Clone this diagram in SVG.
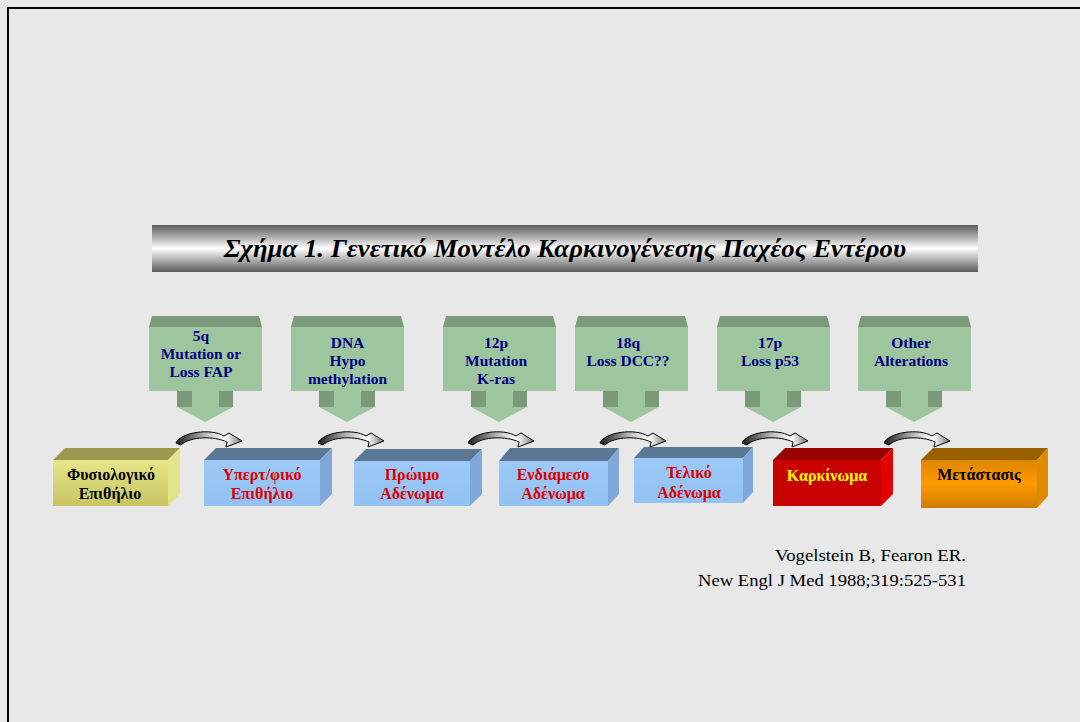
<svg xmlns="http://www.w3.org/2000/svg" width="1080" height="722" viewBox="0 0 1080 722">
<defs>
<linearGradient id="gTitle" x1="0" y1="0" x2="0" y2="1">
<stop offset="0" stop-color="#5a5a5a"/><stop offset="0.5" stop-color="#ffffff"/><stop offset="1" stop-color="#5a5a5a"/>
</linearGradient>
<linearGradient id="gArrow" x1="0" y1="0" x2="1" y2="0">
<stop offset="0" stop-color="#1a1a1a"/><stop offset="0.45" stop-color="#bbbbbb"/><stop offset="0.75" stop-color="#ffffff"/><stop offset="1" stop-color="#777777"/>
</linearGradient>
<linearGradient id="gYellow" x1="0" y1="0" x2="0" y2="1">
<stop offset="0" stop-color="#e6e688"/><stop offset="1" stop-color="#c8c462"/>
</linearGradient>
<linearGradient id="gBlue" x1="0" y1="0" x2="0" y2="1">
<stop offset="0" stop-color="#9cc9f6"/><stop offset="1" stop-color="#92c2f2"/>
</linearGradient>
<linearGradient id="gOrange" x1="0" y1="0" x2="0" y2="1">
<stop offset="0" stop-color="#dc8600"/><stop offset="0.5" stop-color="#ff9900"/><stop offset="1" stop-color="#cf7d00"/>
</linearGradient>
<path id="curl" d="M0,13 C5,2 35,-2 48,6 L53,3 L66,11 L50,17 L51,12 C38,6 15,6 5,15 Z"/>
<g id="callout">
<polygon points="3,0 110,0 113,11 0,11" fill="#7a9a7a"/>
<rect x="0" y="11" width="113" height="64" fill="#9ec69e"/>
<rect x="28" y="75" width="56" height="16" fill="#9ec69e"/>
<rect x="28" y="75" width="15" height="16" fill="#7a9a7a"/>
<rect x="70" y="75" width="14" height="16" fill="#7a9a7a"/>
<polygon points="28,91 84,91 56,106" fill="#9ec69e"/>
</g>
</defs>
<style>
.cal{font-family:"Liberation Serif","Times New Roman",serif;font-weight:bold;font-size:15.5px;fill:#000080;text-anchor:middle}
.bx{font-family:"Liberation Serif","Times New Roman",serif;font-weight:bold;font-size:16px;text-anchor:middle}
.red{fill:#dd0000}
.blk{fill:#000000}
.yel{fill:#ffff00}
.cite{font-family:"Liberation Serif","Times New Roman",serif;font-size:17.5px;fill:#000000;text-anchor:end}
.arr{fill:url(#gArrow);stroke:#000;stroke-width:1}
</style>
<rect x="0" y="0" width="1080" height="722" fill="#e8e8e8"/>
<rect x="8" y="8" width="1090" height="730" fill="none" stroke="#000" stroke-width="2"/>

<g id="title">
<rect x="152" y="225" width="826" height="47" fill="url(#gTitle)"/>
<text x="224" y="257" font-family="Liberation Serif,Times New Roman,serif" font-weight="bold" font-style="italic" font-size="26" textLength="682" lengthAdjust="spacingAndGlyphs" fill="#000">Σχήμα 1. Γενετικό Μοντέλο Καρκινογένεσης Παχέος Εντέρου</text>
</g>

<g id="callout1"><use href="#callout" x="149" y="316"/>
<text class="cal"><tspan x="201" y="341">5q</tspan><tspan x="201" y="359">Mutation or</tspan><tspan x="201" y="377">Loss FAP</tspan></text></g>
<g id="callout2"><use href="#callout" x="291" y="316"/>
<text class="cal"><tspan x="347.5" y="348">DNA</tspan><tspan x="347.5" y="366">Hypo</tspan><tspan x="347.5" y="384">methylation</tspan></text></g>
<g id="callout3"><use href="#callout" x="443" y="316"/>
<text class="cal"><tspan x="496" y="348">12p</tspan><tspan x="496" y="366">Mutation</tspan><tspan x="496" y="384">K-ras</tspan></text></g>
<g id="callout4"><use href="#callout" x="575" y="316"/>
<text class="cal"><tspan x="628" y="348">18q</tspan><tspan x="628" y="366">Loss DCC??</tspan></text></g>
<g id="callout5"><use href="#callout" x="717" y="316"/>
<text class="cal"><tspan x="770" y="348">17p</tspan><tspan x="770" y="366">Loss p53</tspan></text></g>
<g id="callout6"><use href="#callout" x="858" y="316"/>
<text class="cal"><tspan x="911" y="348">Other</tspan><tspan x="911" y="366">Alterations</tspan></text></g>

<g id="connectors">
<use href="#curl" class="arr" x="176" y="430"/>
<use href="#curl" class="arr" x="318" y="430"/>
<use href="#curl" class="arr" x="468" y="430"/>
<use href="#curl" class="arr" x="600" y="430"/>
<use href="#curl" class="arr" x="742" y="430"/>
<use href="#curl" class="arr" x="884" y="430"/>
</g>

<g id="box1">
<polygon points="53,460 65,448 180,448 168,460" fill="#9c9852"/>
<polygon points="168,460 180,448 180,494 168,506" fill="#e4e48c"/>
<rect x="53" y="460" width="115" height="46" fill="url(#gYellow)"/>
<text class="bx blk"><tspan x="111" y="480">Φυσιολογικό</tspan><tspan x="110" y="499">Επιθήλιο</tspan></text>
</g>
<g id="box2">
<polygon points="204,460 216,448 332,448 320,460" fill="#5a7896"/>
<polygon points="320,460 332,448 332,494 320,506" fill="#7fa8d8"/>
<rect x="204" y="460" width="116" height="46" fill="url(#gBlue)"/>
<text class="bx red"><tspan x="262" y="480">Υπερτ/φικό</tspan><tspan x="262" y="499">Επιθήλιο</tspan></text>
</g>
<g id="box3">
<polygon points="354,461 366,449 482,449 470,461" fill="#5a7896"/>
<polygon points="470,461 482,449 482,494 470,506" fill="#7fa8d8"/>
<rect x="354" y="461" width="116" height="45" fill="url(#gBlue)"/>
<text class="bx red"><tspan x="412" y="480">Πρώιμο</tspan><tspan x="412" y="499">Αδένωμα</tspan></text>
</g>
<g id="box4">
<polygon points="499,461 510,448 619,448 608,461" fill="#5a7896"/>
<polygon points="608,461 619,448 619,494 608,506" fill="#7fa8d8"/>
<rect x="499" y="461" width="109" height="45" fill="url(#gBlue)"/>
<text class="bx red"><tspan x="553" y="480">Ενδιάμεσο</tspan><tspan x="553" y="499">Αδένωμα</tspan></text>
</g>
<g id="box5">
<polygon points="634,458 644,447 753,447 743,458" fill="#5a7896"/>
<polygon points="743,458 753,447 753,492 743,503" fill="#7fa8d8"/>
<rect x="634" y="458" width="109" height="45" fill="url(#gBlue)"/>
<text class="bx red"><tspan x="689" y="478">Τελικό</tspan><tspan x="689" y="498">Αδένωμα</tspan></text>
</g>
<g id="box6">
<polygon points="773,460 785,448 893,448 881,460" fill="#990000"/>
<polygon points="881,460 893,448 893,494 881,506" fill="#e20000"/>
<rect x="773" y="460" width="108" height="46" fill="#c80000"/>
<text class="bx yel" x="827" y="481">Καρκίνωμα</text>
</g>
<g id="box7">
<polygon points="921,460 933,448 1048,448 1037,460" fill="#996000"/>
<polygon points="1037,460 1048,448 1048,496 1037,508" fill="#e08a00"/>
<rect x="921" y="460" width="116" height="48" fill="url(#gOrange)"/>
<text class="bx blk" x="979" y="480">Μετάστασις</text>
</g>

<g id="citation">
<text class="cite" x="966" y="561" textLength="191" lengthAdjust="spacingAndGlyphs">Vogelstein B, Fearon ER.</text>
<text class="cite" x="966" y="586" textLength="268" lengthAdjust="spacingAndGlyphs">New Engl J Med 1988;319:525-531</text>
</g>
</svg>
